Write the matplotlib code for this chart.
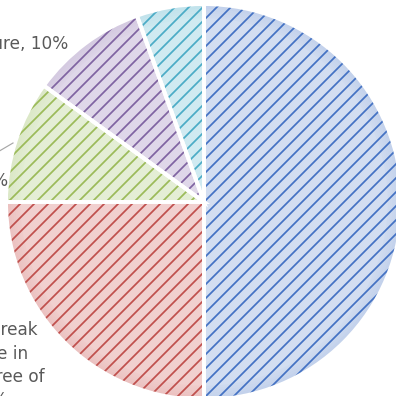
import matplotlib.pyplot as plt
import numpy as np

plt.rcParams['font.family'] = ['DejaVu Sans']
plt.rcParams['hatch.linewidth'] = 1.5

# risk causes, share of incidents (%)
names = ['Market demand', 'Contract break\nor change in\nthe degree of\nscope',
         'Human error', 'Equipment failure', 'Other']
sizes = [50, 25, 10, 9.5, 5.5]
dark = ['#4472C4', '#C0504D', '#9BBB59', '#8064A2', '#4BACC6']
light = ['#D3DEF1', '#F1D0CF', '#E4EED5', '#DFD7E9', '#D0EAF1']
labels = ['%s, %.0f%%' % (n, v) for n, v in zip(names, sizes)]

DPI = 84
fig = plt.figure(figsize=(396 / DPI, 396 / DPI), dpi=DPI)
# pie is larger than the canvas, so place the axes by hand (centre 204,202 px)
cx, cy, r = 204, 202, 198
ax = fig.add_axes([(cx - r) / 396, (396 - cy - r) / 396, 2 * r / 396, 2 * r / 396])

# hatched fill (hatch takes the edge colour)
wedges, _ = ax.pie(sizes, colors=light, startangle=90, counterclock=False,
                   wedgeprops=dict(linewidth=0))
for w, c in zip(wedges, dark):
    w.set_hatch('//')
    w.set_edgecolor(c)

# soft darker rim
for k in range(6):
    ax.pie(sizes, colors=dark, startangle=90, counterclock=False, radius=1 - k * 0.012,
           wedgeprops=dict(width=0.012, linewidth=0, alpha=0.12 - k * 0.018))

# white separators between slices
ax.pie(sizes, colors=['none'] * 5, startangle=90, counterclock=False,
       wedgeprops=dict(edgecolor='white', linewidth=3.4))

ax.set_xlim(-1, 1)
ax.set_ylim(-1, 1)
ax.set_aspect('equal', adjustable='datalim')
ax.axis('off')


def px(x, y):
    # canvas pixels -> data coords
    return (x - cx) / r, (cy - y) / r


txt = dict(color='#595959', fontsize=14.5, va='center')
ax.text(*px(68, 44), labels[3], ha='right', **txt)
ax.text(*px(8, 181), labels[2], ha='right', **txt)
# leader line for the green slice label
(x0, y0), (x1, y1) = px(13, 143), px(-4, 153)
ax.plot([x0, x1], [y0, y1], color='#A6A6A6', lw=1.0, clip_on=False)

red_lines = labels[1].split('\n')
red_ends = [38, 28, 45, 8]
red_rows = [330, 354, 377, 400]
for line, xe, yr in zip(red_lines, red_ends, red_rows):
    ax.text(*px(xe, yr), line, ha='right', **txt)

fig.savefig('out.png', dpi=DPI)
